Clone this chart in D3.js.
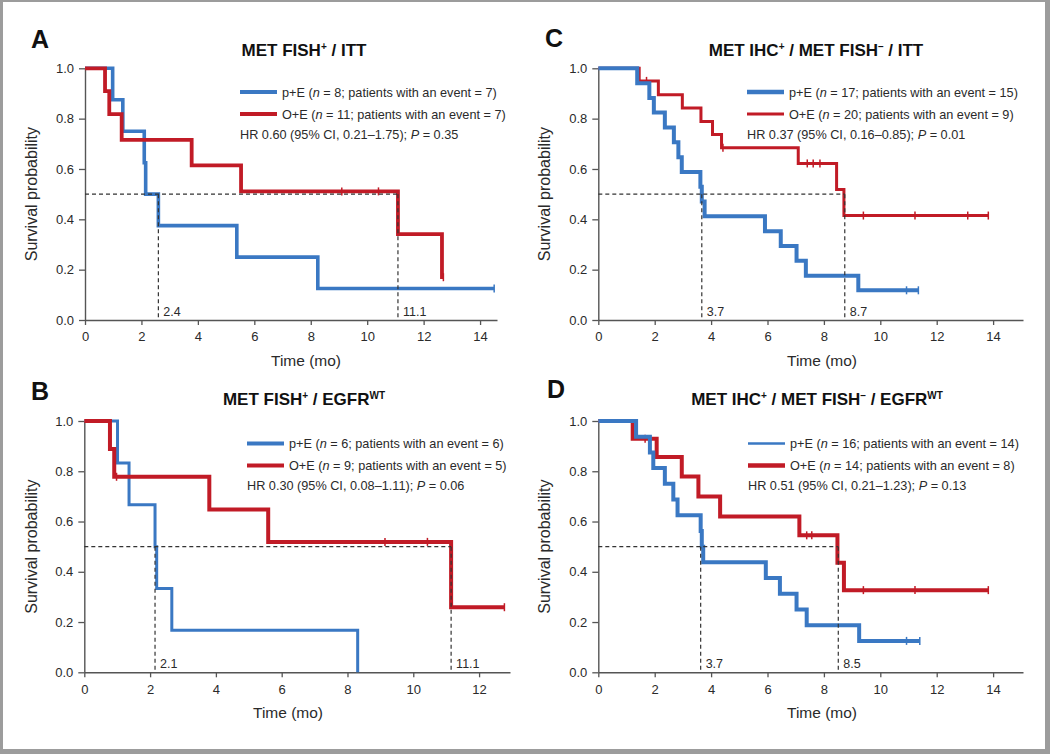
<!DOCTYPE html>
<html><head><meta charset="utf-8">
<script src="https://cdn.jsdelivr.net/npm/d3@7/dist/d3.min.js"></script>
<style>
body{margin:0;background:#fff;}
svg{display:block;font-family:"Liberation Sans",Arial,Helvetica,sans-serif;}
</style></head>
<body>
<svg id="chart" width="1050" height="754"></svg>
<script>
// ---------- DATA ----------
// Panel A: MET FISH+ / ITT
const aBlueTime = [0, 0.98, 1.34, 2.1, 2.15, 2.6, 5.38, 8.25];
const aBlueSurv = [1, 0.875, 0.75, 0.625, 0.5, 0.375, 0.25, 0.125];
const aBlueEnd = 14.5;
const aBlueCensor = [14.5];
const aRedTime = [0, 0.71, 0.86, 1.3, 3.78, 5.53, 11.09, 12.65];
const aRedSurv = [1, 0.909, 0.818, 0.716, 0.614, 0.511, 0.341, 0.17];
const aRedEnd = 12.7;
const aRedCensor = [9.1, 10.4, 12.7];
const aMedians = [2.6, 11.09];
const aMedianLabels = ["2.4", "11.1"];

// Panel B: MET FISH+ / EGFR WT
const bBlueTime = [0, 1.01, 1.36, 2.15, 2.2, 2.66, 8.31];
const bBlueSurv = [1, 0.833, 0.667, 0.5, 0.333, 0.167, 0];
const bBlueEnd = 8.31;
const bBlueCensor = [];
const bRedTime = [0, 0.78, 0.91, 3.8, 5.59, 11.15];
const bRedSurv = [1, 0.889, 0.778, 0.648, 0.519, 0.259];
const bRedEnd = 12.77;
const bRedCensor = [0.98, 9.14, 10.43, 12.77];
const bMedians = [2.15, 11.15];
const bMedianLabels = ["2.1", "11.1"];

// Panel C: MET IHC+ / MET FISH- / ITT
const cBlueTime = [0, 1.38, 1.81, 1.97, 2.36, 2.68, 2.84, 2.96, 3.62, 3.67, 3.77, 5.91, 6.47, 7.03, 7.36, 9.22];
const cBlueSurv = [1, 0.941, 0.882, 0.824, 0.765, 0.706, 0.647, 0.588, 0.529, 0.471, 0.412, 0.353, 0.294, 0.235, 0.176, 0.118];
const cBlueEnd = 11.35;
const cBlueCensor = [10.93, 11.35];
const cRedTime = [0, 1.45, 2.13, 2.98, 3.64, 4.05, 4.37, 7.09, 8.45, 8.71];
const cRedSurv = [1, 0.95, 0.895, 0.842, 0.789, 0.737, 0.684, 0.622, 0.518, 0.415];
const cRedEnd = 13.83;
const cRedCensor = [1.71, 4.42, 7.41, 7.62, 7.86, 9.4, 11.23, 13.1, 13.83];
const cMedians = [3.67, 8.74];
const cMedianLabels = ["3.7", "8.7"];

// Panel D: MET IHC+ / MET FISH- / EGFR WT
const dBlueTime = [0, 1.34, 1.83, 1.95, 2.36, 2.66, 2.81, 3.63, 3.67, 3.72, 5.94, 6.44, 7.03, 7.39, 9.25];
const dBlueSurv = [1, 0.9375, 0.875, 0.8125, 0.75, 0.6875, 0.625, 0.5625, 0.5, 0.4375, 0.375, 0.3125, 0.25, 0.1875, 0.125];
const dBlueEnd = 11.4;
const dBlueCensor = [10.93, 11.4];
const dRedTime = [0, 1.22, 2.07, 2.96, 3.55, 4.32, 7.13, 8.48, 8.71];
const dRedSurv = [1, 0.929, 0.857, 0.779, 0.70, 0.62, 0.545, 0.436, 0.327];
const dRedEnd = 13.83;
const dRedCensor = [1.66, 7.39, 7.57, 9.4, 11.23, 13.83];
const dMedians = [3.63, 8.51];
const dMedianLabels = ["3.7", "8.5"];

// Legend text
const aLegend = [["p+E (", "n", " = 8; patients with an event = 7)"], ["O+E (", "n", " = 11; patients with an event = 7)"]];
const bLegend = [["p+E (", "n", " = 6; patients with an event = 6)"], ["O+E (", "n", " = 9; patients with an event = 5)"]];
const cLegend = [["p+E (", "n", " = 17; patients with an event = 15)"], ["O+E (", "n", " = 20; patients with an event = 9)"]];
const dLegend = [["p+E (", "n", " = 16; patients with an event = 14)"], ["O+E (", "n", " = 14; patients with an event = 8)"]];
const aHR = ["HR 0.60 (95% CI, 0.21\u20131.75); ", "P", " = 0.35"];
const bHR = ["HR 0.30 (95% CI, 0.08\u20131.11); ", "P", " = 0.06"];
const cHR = ["HR 0.37 (95% CI, 0.16\u20130.85); ", "P", " = 0.01"];
const dHR = ["HR 0.51 (95% CI, 0.21\u20131.23); ", "P", " = 0.13"];

// Titles: [text, superscript] pieces
const aTitle = [["MET FISH", ""], ["+", "sup"], [" / ITT", ""]];
const bTitle = [["MET FISH", ""], ["+", "sup"], [" / EGFR", ""], ["WT", "sup"]];
const cTitle = [["MET IHC", ""], ["+", "sup"], [" / MET FISH", ""], ["\u2013", "sup"], [" / ITT", ""]];
const dTitle = [["MET IHC", ""], ["+", "sup"], [" / MET FISH", ""], ["\u2013", "sup"], [" / EGFR", ""], ["WT", "sup"]];

const yTicks = [0, 0.2, 0.4, 0.6, 0.8, 1.0];
const xTicks14 = [0, 2, 4, 6, 8, 10, 12, 14];
const xTicks12 = [0, 2, 4, 6, 8, 10, 12];

// ---------- STYLE / LAYOUT ----------
const BLUE = "#3a78c3", RED = "#c11b26", AXIS = "#555", TXT = "#2a2a2a";
const svg = d3.select("#chart");
svg.append("rect").attr("width", 1050).attr("height", 754).attr("fill", "#9c9c9c");
svg.append("rect").attr("x", 3).attr("y", 2).attr("width", 1042).attr("height", 747).attr("fill", "#fff");

const panels = [
  {letter: "A", lx: 31, ly: 48, left: 85, right: 497, top: 68.3, bottom: 320, xmax: 14.6, xt: xTicks14,
   title: aTitle, tx: 304, ty: 56, leg: aLegend, hr: aHR, legX: 240, legY: 92, legW: [4, 4],
   blue: [aBlueTime, aBlueSurv, aBlueEnd, aBlueCensor], red: [aRedTime, aRedSurv, aRedEnd, aRedCensor],
   widths: [3.6, 3.8], redTop: true, med: aMedians, medL: aMedianLabels, axT: 306, ylx: 37},
  {letter: "B", lx: 31, ly: 400, left: 84.3, right: 510, top: 421, bottom: 672.3, xmax: 12.94, xt: xTicks12,
   title: bTitle, tx: 304, ty: 405, leg: bLegend, hr: bHR, legX: 247, legY: 443.5, legW: [4, 4],
   blue: [bBlueTime, bBlueSurv, bBlueEnd, bBlueCensor], red: [bRedTime, bRedSurv, bRedEnd, bRedCensor],
   widths: [3, 4], redTop: true, med: bMedians, medL: bMedianLabels, axT: 288, ylx: 37},
  {letter: "C", lx: 545, ly: 47, left: 598.3, right: 1023, top: 68.3, bottom: 320, xmax: 15.06, xt: xTicks14,
   title: cTitle, tx: 816, ty: 56, leg: cLegend, hr: cHR, legX: 747, legY: 92, legW: [4.5, 3],
   blue: [cBlueTime, cBlueSurv, cBlueEnd, cBlueCensor], red: [cRedTime, cRedSurv, cRedEnd, cRedCensor],
   widths: [4, 3], redTop: false, med: cMedians, medL: cMedianLabels, axT: 822, ylx: 550},
  {letter: "D", lx: 547, ly: 398, left: 598.3, right: 1023, top: 421, bottom: 672.3, xmax: 15.06, xt: xTicks14,
   title: dTitle, tx: 817, ty: 405, leg: dLegend, hr: dHR, legX: 748, legY: 443.5, legW: [2.6, 4.5],
   blue: [dBlueTime, dBlueSurv, dBlueEnd, dBlueCensor], red: [dRedTime, dRedSurv, dRedEnd, dRedCensor],
   widths: [4, 4], redTop: false, med: dMedians, medL: dMedianLabels, axT: 822, ylx: 550}
];

panels.forEach(p => {
  const g = svg.append("g");
  const x = d3.scaleLinear().domain([0, p.xmax]).range([p.left, p.right]);
  const y = d3.scaleLinear().domain([0, 1]).range([p.bottom, p.top]);

  // letter
  g.append("text").attr("x", p.lx).attr("y", p.ly).attr("font-size", 25).attr("font-weight", "bold")
    .attr("fill", "#111").text(p.letter);
  // title with superscripts
  const t = g.append("text").attr("x", p.tx).attr("y", p.ty).attr("text-anchor", "middle")
    .attr("font-size", 17).attr("font-weight", "bold").attr("fill", "#111");
  let shifted = false;
  p.title.forEach(([s, k]) => {
    if (k === "sup") {
      t.append("tspan").attr("font-size", 10).attr("dy", shifted ? 0 : -6).text(s);
      shifted = true;
    } else {
      t.append("tspan").attr("dy", shifted ? 6 : 0).text(s);
      shifted = false;
    }
  });

  // axes
  const xAxis = d3.axisBottom(x).tickValues(p.xt).tickSize(5).tickSizeOuter(0).tickPadding(7).tickFormat(d3.format("d"));
  const yAxis = d3.axisLeft(y).tickValues(yTicks).tickSize(6).tickSizeOuter(0).tickPadding(5).tickFormat(d3.format(".1f"));
  const gx = g.append("g").attr("transform", `translate(0,${p.bottom})`).call(xAxis);
  const gy = g.append("g").attr("transform", `translate(${p.left},0)`).call(yAxis);
  [gx, gy].forEach(a => {
    a.select(".domain").attr("stroke", AXIS).attr("stroke-width", 1.4);
    a.selectAll(".tick line").attr("stroke", AXIS).attr("stroke-width", 1.3);
    a.selectAll(".tick text").attr("fill", TXT).attr("font-size", 13)
      .attr("font-family", "'Liberation Sans',Arial,sans-serif");
  });

  // axis titles
  g.append("text").attr("x", p.axT).attr("y", p.bottom + 46).attr("text-anchor", "middle")
    .attr("font-size", 15.5).attr("fill", TXT).text("Time (mo)");
  g.append("text").attr("transform", `translate(${p.ylx},${(p.top + p.bottom) / 2}) rotate(-90)`)
    .attr("text-anchor", "middle").attr("font-size", 16).attr("fill", TXT).text("Survival probability");

  // curves
  const line = d3.line().x(d => x(d[0])).y(d => y(d[1])).curve(d3.curveStepAfter);
  const drawCurve = (arr, color, w) => {
    const [tm, sv, end, cens] = arr;
    const pts = tm.map((v, i) => [v, sv[i]]);
    pts.push([end, sv[sv.length - 1]]);
    g.append("path").datum(pts).attr("d", line).attr("fill", "none").attr("stroke", color)
      .attr("stroke-width", w).attr("stroke-linejoin", "miter").attr("stroke-linecap", "butt");
    const survAt = tt => { let s = 1; tm.forEach((v, i) => { if (v <= tt) s = sv[i]; }); return s; };
    g.selectAll(null).data(cens).enter().append("line")
      .attr("x1", d => x(d)).attr("x2", d => x(d))
      .attr("y1", d => y(survAt(d)) - 4).attr("y2", d => y(survAt(d)) + 4)
      .attr("stroke", color).attr("stroke-width", 1.5);
  };
  if (p.redTop) { drawCurve(p.blue, BLUE, p.widths[0]); drawCurve(p.red, RED, p.widths[1]); }
  else { drawCurve(p.red, RED, p.widths[1]); drawCurve(p.blue, BLUE, p.widths[0]); }

  // median dashed lines
  const dash = "4,3";
  g.append("line").attr("x1", x(0)).attr("x2", x(p.med[1])).attr("y1", y(0.5)).attr("y2", y(0.5))
    .attr("stroke", "#333").attr("stroke-width", 1.2).attr("stroke-dasharray", dash);
  p.med.forEach((m, i) => {
    g.append("line").attr("x1", x(m)).attr("x2", x(m)).attr("y1", y(0.5)).attr("y2", y(0))
      .attr("stroke", "#333").attr("stroke-width", 1.2).attr("stroke-dasharray", dash);
    g.append("text").attr("x", x(m) + 5).attr("y", y(0) - 4).attr("font-size", 12.5).attr("fill", TXT).text(p.medL[i]);
  });

  // legend
  const colors = [BLUE, RED];
  p.leg.forEach((parts, i) => {
    const ly = p.legY + i * 22;
    g.append("line").attr("x1", p.legX).attr("x2", p.legX + 37).attr("y1", ly).attr("y2", ly)
      .attr("stroke", colors[i]).attr("stroke-width", p.legW[i]);
    const tx = g.append("text").attr("x", p.legX + 42).attr("y", ly + 4.5).attr("font-size", 12.7).attr("fill", TXT);
    tx.append("tspan").text(parts[0]);
    tx.append("tspan").attr("font-style", "italic").text(parts[1]);
    tx.append("tspan").text(parts[2]);
  });
  const hx = g.append("text").attr("x", p.legX).attr("y", p.legY + 46.5).attr("font-size", 12.7).attr("fill", TXT);
  hx.append("tspan").text(p.hr[0]);
  hx.append("tspan").attr("font-style", "italic").text(p.hr[1]);
  hx.append("tspan").text(p.hr[2]);
});
</script>
</body></html>
